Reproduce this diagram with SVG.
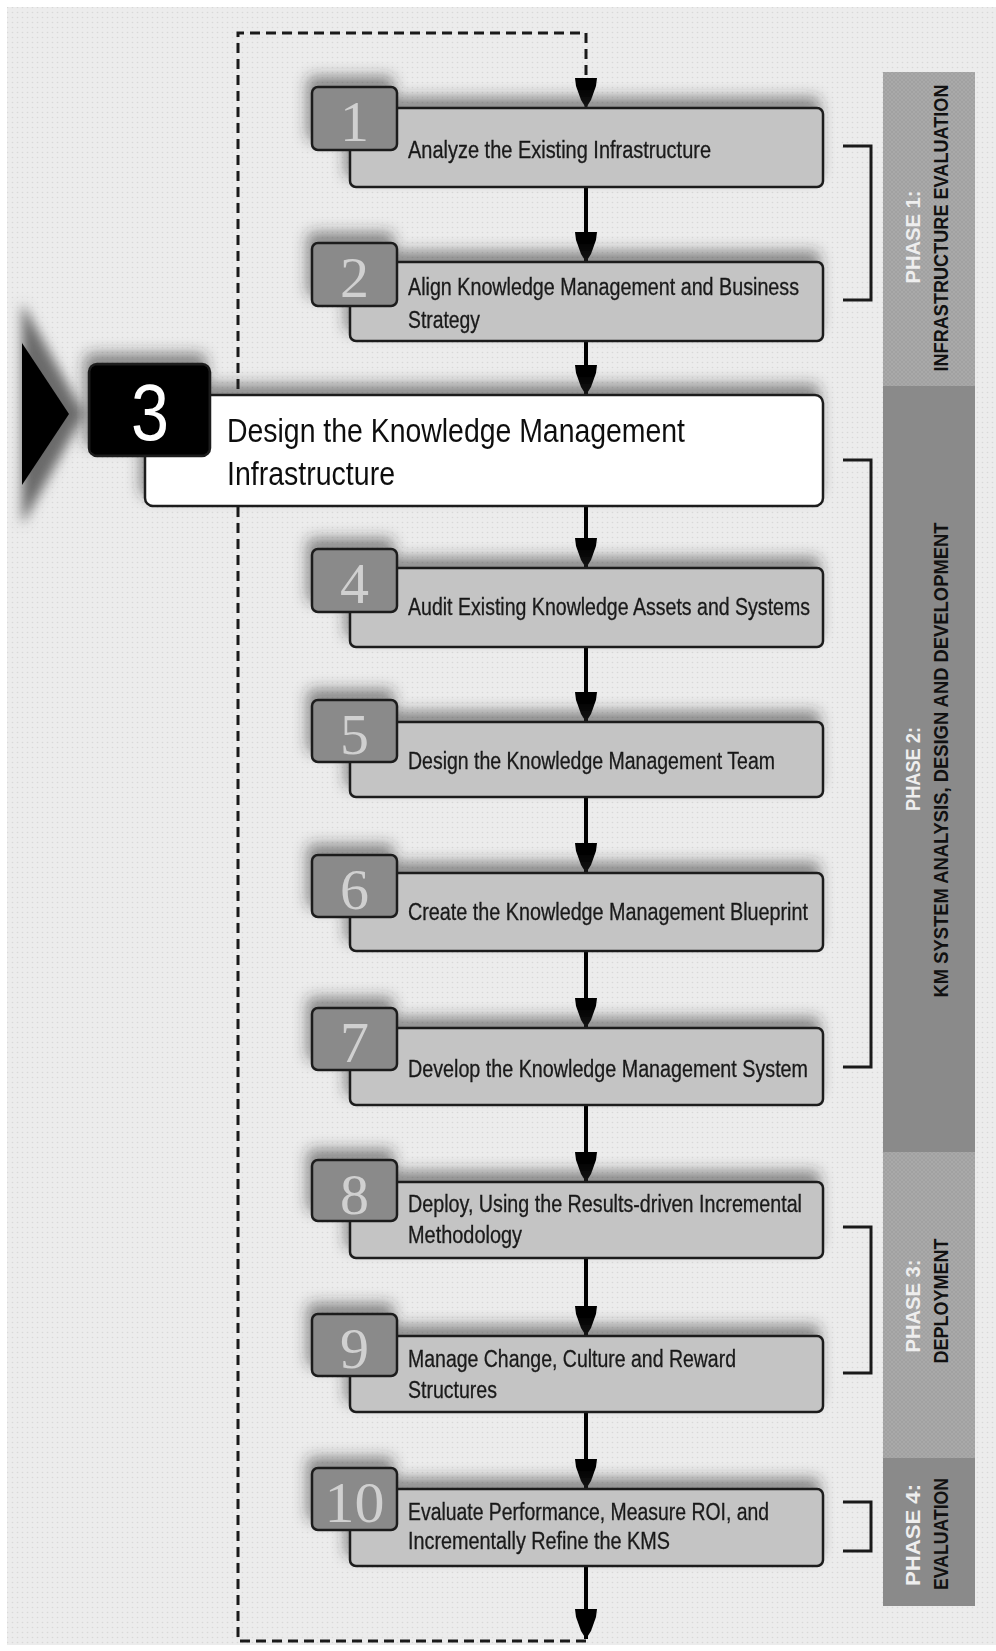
<svg xmlns="http://www.w3.org/2000/svg" width="996" height="1651" viewBox="0 0 996 1651">
  <defs>
    <pattern id="dots" width="5" height="5" patternUnits="userSpaceOnUse">
      <rect width="5" height="5" fill="#ececec"/>
      <circle cx="2.5" cy="2.5" r="0.8" fill="#d8d8d8"/>
    </pattern>
    <pattern id="hatch" width="4" height="4" patternUnits="userSpaceOnUse">
      <rect width="4" height="4" fill="#a9a9a9"/>
      <path d="M0,0 L4,4 M4,0 L0,4" stroke="#9d9d9d" stroke-width="0.7"/>
    </pattern>
    <filter id="boxShadow" x="-15%" y="-60%" width="135%" height="200%">
      <feGaussianBlur in="SourceAlpha" stdDeviation="7"/>
      <feOffset dx="-4" dy="-10" result="sb"/>
      <feFlood flood-color="#2a2a2a" flood-opacity="0.5"/>
      <feComposite in2="sb" operator="in"/>
      <feMerge>
        <feMergeNode/>
        <feMergeNode in="SourceGraphic"/>
      </feMerge>
    </filter>
    <filter id="soft" x="-50%" y="-50%" width="200%" height="200%">
      <feGaussianBlur stdDeviation="6"/>
    </filter>
    <marker id="ah" markerUnits="userSpaceOnUse" markerWidth="32" markerHeight="24" refX="30" refY="11" orient="auto">
      <path d="M0,0 L8,1 L22,6 L30,11 L22,16 L8,21 L0,22 Z" fill="#000"/>
    </marker>
    <style>
      .box { fill: #c4c4c4; stroke: #1e1e1e; stroke-width: 2.5; }
      .tab { fill: #8a8a8a; stroke: #1e1e1e; stroke-width: 2.5; }
      .lbl { font-family: "Liberation Sans", Arial, sans-serif; font-size: 23px; fill: #1a1a1a; stroke: #1a1a1a; stroke-width: 0.3; }
      .lbl3 { font-family: "Liberation Sans", Arial, sans-serif; font-size: 34px; fill: #111; }
      .num { font-family: "Liberation Serif", "Times New Roman", serif; font-size: 58px; fill: #d0d0d0; text-anchor: middle; }
      .flow { fill: none; stroke: #000; stroke-width: 4; }
      .loop { fill: none; stroke: #1a1a1a; stroke-width: 3; stroke-dasharray: 10 6; }
      .brk { fill: none; stroke: #1a1a1a; stroke-width: 3; }
      .phn { font-family: "Liberation Sans", Arial, sans-serif; font-weight: bold; font-size: 21px; fill: #eeeeee; text-anchor: middle; }
      .pht { font-family: "Liberation Sans", Arial, sans-serif; font-weight: bold; font-size: 21px; fill: #111; text-anchor: middle; }
    </style>
  </defs>

  <!-- page background -->
  <rect width="996" height="1651" fill="#ffffff"/>
  <rect x="7" y="7" width="989" height="1638" fill="url(#dots)"/>

  <!-- phase bands -->
  <g id="phase1">
    <rect x="883" y="72" width="92" height="314" fill="url(#hatch)"/>
    <text class="phn" transform="translate(920,237) rotate(-90)" textLength="93" lengthAdjust="spacingAndGlyphs">PHASE 1:</text>
    <text class="pht" transform="translate(948,228) rotate(-90)" textLength="287" lengthAdjust="spacingAndGlyphs">INFRASTRUCTURE EVALUATION</text>
  </g>
  <g id="phase2">
    <rect x="883" y="386" width="92" height="766" fill="#8a8a8a"/>
    <text class="phn" transform="translate(920,769) rotate(-90)" textLength="84" lengthAdjust="spacingAndGlyphs">PHASE 2:</text>
    <text class="pht" transform="translate(948,760) rotate(-90)" textLength="475" lengthAdjust="spacingAndGlyphs">KM SYSTEM ANALYSIS, DESIGN AND DEVELOPMENT</text>
  </g>
  <g id="phase3">
    <rect x="883" y="1152" width="92" height="306" fill="url(#hatch)"/>
    <text class="phn" transform="translate(920,1306) rotate(-90)" textLength="93" lengthAdjust="spacingAndGlyphs">PHASE 3:</text>
    <text class="pht" transform="translate(948,1301) rotate(-90)" textLength="125" lengthAdjust="spacingAndGlyphs">DEPLOYMENT</text>
  </g>
  <g id="phase4">
    <rect x="883" y="1458" width="92" height="148" fill="#8a8a8a"/>
    <text class="phn" transform="translate(920,1535) rotate(-90)" textLength="102" lengthAdjust="spacingAndGlyphs">PHASE 4:</text>
    <text class="pht" transform="translate(948,1534) rotate(-90)" textLength="112" lengthAdjust="spacingAndGlyphs">EVALUATION</text>
  </g>

  <!-- phase brackets -->
  <g id="brackets">
    <polyline class="brk" points="843,146 871,146 871,300 843,300"/>
    <polyline class="brk" points="843,460 871,460 871,1067 843,1067"/>
    <polyline class="brk" points="843,1227 871,1227 871,1373 843,1373"/>
    <polyline class="brk" points="843,1502 871,1502 871,1551 843,1551"/>
  </g>

  <!-- connectors -->
  <g id="connectors">
    <path class="loop" d="M586,1641 H238 V33 H586 V108" marker-end="url(#ah)"/>
    <path class="flow" d="M586,187 V262" marker-end="url(#ah)"/>
    <path class="flow" d="M586,341 V395" marker-end="url(#ah)"/>
    <path class="flow" d="M586,506 V568" marker-end="url(#ah)"/>
    <path class="flow" d="M586,647 V722" marker-end="url(#ah)"/>
    <path class="flow" d="M586,797 V873" marker-end="url(#ah)"/>
    <path class="flow" d="M586,951 V1028" marker-end="url(#ah)"/>
    <path class="flow" d="M586,1105 V1182" marker-end="url(#ah)"/>
    <path class="flow" d="M586,1258 V1336" marker-end="url(#ah)"/>
    <path class="flow" d="M586,1412 V1489" marker-end="url(#ah)"/>
    <path class="flow" d="M586,1566 V1639" marker-end="url(#ah)"/>
  </g>

  <!-- current-step pointer -->
  <g id="pointer">
    <polygon points="22,303 84,414 22,525" fill="#6a6a6a" filter="url(#soft)"/>
    <polygon points="22,343 69,414 22,485" fill="#000"/>
  </g>

  <!-- steps -->
  <g id="step1" filter="url(#boxShadow)">
    <rect class="box" x="350" y="108" width="473" height="79" rx="6"/>
    <rect class="tab" x="312" y="87" width="85" height="63" rx="6"/>
    <text class="num" x="354.5" y="141">1</text>
    <text class="lbl" x="408" y="158" textLength="303" lengthAdjust="spacingAndGlyphs">Analyze the Existing Infrastructure</text>
  </g>
  <g id="step2" filter="url(#boxShadow)">
    <rect class="box" x="350" y="262" width="473" height="79" rx="6"/>
    <rect class="tab" x="312" y="243" width="85" height="63" rx="6"/>
    <text class="num" x="354.5" y="297">2</text>
    <text class="lbl" x="408" y="295" textLength="391" lengthAdjust="spacingAndGlyphs">Align Knowledge Management and Business</text>
    <text class="lbl" x="408" y="328" textLength="72" lengthAdjust="spacingAndGlyphs">Strategy</text>
  </g>
  <g id="step3" filter="url(#boxShadow)">
    <rect x="145" y="395" width="678" height="111" rx="8" fill="#ffffff" stroke="#1e1e1e" stroke-width="2.5"/>
    <rect x="89" y="364" width="121" height="92" rx="8" fill="#000" stroke="#1e1e1e" stroke-width="2.5"/>
    <text x="150" y="440" font-family="Liberation Sans, Arial, sans-serif" font-size="80" fill="#ffffff" text-anchor="middle" textLength="38" lengthAdjust="spacingAndGlyphs">3</text>
    <text class="lbl3" x="227" y="442" textLength="458" lengthAdjust="spacingAndGlyphs">Design the Knowledge Management</text>
    <text class="lbl3" x="227" y="485" textLength="168" lengthAdjust="spacingAndGlyphs">Infrastructure</text>
  </g>
  <g id="step4" filter="url(#boxShadow)">
    <rect class="box" x="350" y="568" width="473" height="79" rx="6"/>
    <rect class="tab" x="312" y="549" width="85" height="63" rx="6"/>
    <text class="num" x="354.5" y="603">4</text>
    <text class="lbl" x="408" y="615" textLength="402" lengthAdjust="spacingAndGlyphs">Audit Existing Knowledge Assets and Systems</text>
  </g>
  <g id="step5" filter="url(#boxShadow)">
    <rect class="box" x="350" y="722" width="473" height="75" rx="6"/>
    <rect class="tab" x="312" y="700" width="85" height="62" rx="6"/>
    <text class="num" x="354.5" y="754">5</text>
    <text class="lbl" x="408" y="769" textLength="367" lengthAdjust="spacingAndGlyphs">Design the Knowledge Management Team</text>
  </g>
  <g id="step6" filter="url(#boxShadow)">
    <rect class="box" x="350" y="873" width="473" height="78" rx="6"/>
    <rect class="tab" x="312" y="855" width="85" height="62" rx="6"/>
    <text class="num" x="354.5" y="909">6</text>
    <text class="lbl" x="408" y="920" textLength="400" lengthAdjust="spacingAndGlyphs">Create the Knowledge Management Blueprint</text>
  </g>
  <g id="step7" filter="url(#boxShadow)">
    <rect class="box" x="350" y="1028" width="473" height="77" rx="6"/>
    <rect class="tab" x="312" y="1008" width="85" height="62" rx="6"/>
    <text class="num" x="354.5" y="1062">7</text>
    <text class="lbl" x="408" y="1077" textLength="400" lengthAdjust="spacingAndGlyphs">Develop the Knowledge Management System</text>
  </g>
  <g id="step8" filter="url(#boxShadow)">
    <rect class="box" x="350" y="1182" width="473" height="76" rx="6"/>
    <rect class="tab" x="312" y="1160" width="85" height="61" rx="6"/>
    <text class="num" x="354.5" y="1214">8</text>
    <text class="lbl" x="408" y="1212" textLength="394" lengthAdjust="spacingAndGlyphs">Deploy, Using the Results-driven Incremental</text>
    <text class="lbl" x="408" y="1243" textLength="114" lengthAdjust="spacingAndGlyphs">Methodology</text>
  </g>
  <g id="step9" filter="url(#boxShadow)">
    <rect class="box" x="350" y="1336" width="473" height="76" rx="6"/>
    <rect class="tab" x="312" y="1314" width="85" height="62" rx="6"/>
    <text class="num" x="354.5" y="1368">9</text>
    <text class="lbl" x="408" y="1367" textLength="328" lengthAdjust="spacingAndGlyphs">Manage Change, Culture and Reward</text>
    <text class="lbl" x="408" y="1398" textLength="89" lengthAdjust="spacingAndGlyphs">Structures</text>
  </g>
  <g id="step10" filter="url(#boxShadow)">
    <rect class="box" x="350" y="1489" width="473" height="77" rx="6"/>
    <rect class="tab" x="312" y="1468" width="85" height="62" rx="6"/>
    <text class="num" x="354.5" y="1522" textLength="60" lengthAdjust="spacingAndGlyphs">10</text>
    <text class="lbl" x="408" y="1520" textLength="361" lengthAdjust="spacingAndGlyphs">Evaluate Performance, Measure ROI, and</text>
    <text class="lbl" x="408" y="1549" textLength="262" lengthAdjust="spacingAndGlyphs">Incrementally Refine the KMS</text>
  </g>
</svg>
